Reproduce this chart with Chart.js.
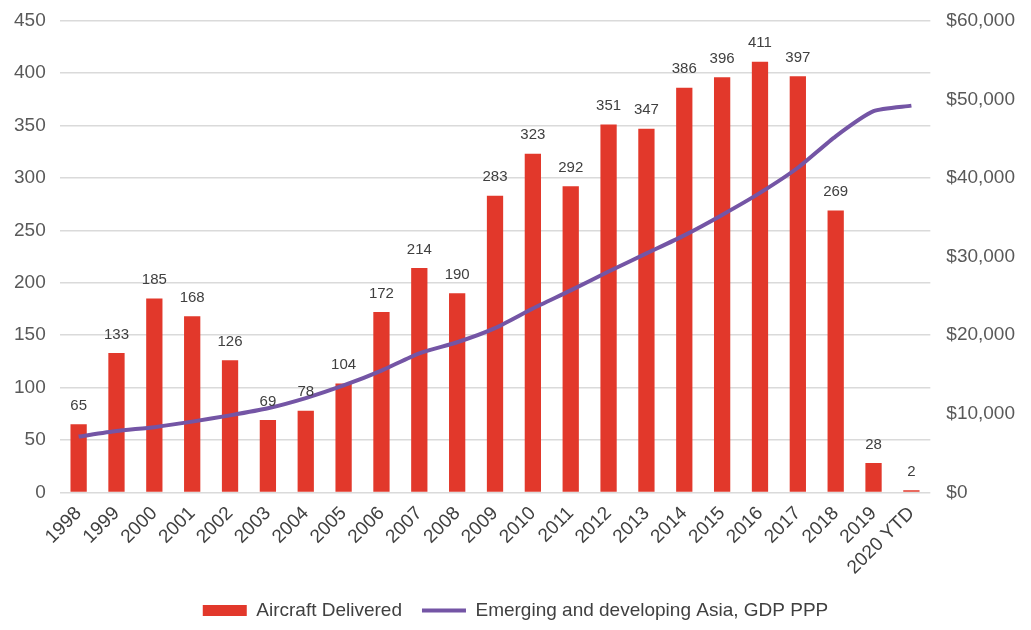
<!DOCTYPE html>
<html>
<head>
<meta charset="utf-8">
<script src="https://cdn.jsdelivr.net/npm/chart.js@4"></script>
<style>
  body { margin: 0; background: #fff; }
  #wrap { width: 1031px; height: 630px; }
</style>
</head>
<body>
<div id="wrap"><canvas id="myChart"></canvas></div>
<script>
const years = ['1998', '1999', '2000', '2001', '2002', '2003', '2004', '2005', '2006', '2007', '2008',
    '2009', '2010', '2011', '2012', '2013', '2014', '2015', '2016', '2017', '2018', '2019', '2020 YTD'];
const delivered = [65, 133, 185, 168, 126, 69, 78, 104, 172, 214, 190,
    283, 323, 292, 351, 347, 386, 396, 411, 397, 269, 28, 2];
// estimated off the right axis
const gdpPpp = [7100, 7800, 8300, 9000, 9800, 10700, 12000, 13600, 15500, 17700, 19100,
    20900, 23400, 25700, 28100, 30400, 32700, 35300, 38100, 41300, 45300, 48500, 49200];
const leftTicks = [0, 50, 100, 150, 200, 250, 300, 350, 400, 450];

const FONT = '"Liberation Sans", Arial, sans-serif';

const barLabels = {
    id: 'barLabels',
    afterDatasetsDraw(chart) {
        const ctx = chart.ctx;
        const meta = chart.getDatasetMeta(1);
        ctx.save();
        ctx.font = '15px ' + FONT;
        ctx.fillStyle = '#404040';
        ctx.textAlign = 'center';
        ctx.textBaseline = 'bottom';
        meta.data.forEach((bar, i) => {
            ctx.fillText(delivered[i], bar.x, bar.y - 11);
        });
        ctx.restore();
    }
};

const ctx = document.getElementById('myChart');
const myChart = new Chart(ctx, {
    type: 'bar',
    data: {
        labels: years,
        datasets: [
            {
                type: 'line',
                label: 'Emerging and developing Asia, GDP PPP',
                data: gdpPpp,
                yAxisID: 'y2',
                borderColor: '#7455a5',
                backgroundColor: '#7455a5',
                borderWidth: 4,
                pointRadius: 0,
                pointStyle: 'line',
                tension: 0.2,
                order: 0
            },
            {
                label: 'Aircraft Delivered',
                data: delivered,
                yAxisID: 'y',
                backgroundColor: '#e2382b',
                pointStyle: 'rect',
                barPercentage: 0.43,
                categoryPercentage: 1,
                order: 1
            }
        ]
    },
    options: {
        responsive: true,
        maintainAspectRatio: false,
        animation: false,
        layout: { padding: { left: 0, right: 0, top: 16, bottom: 0 } },
        plugins: {
            tooltip: { enabled: false },
            legend: {
                position: 'bottom',
                reverse: true,
                labels: {
                    usePointStyle: true,
                    pointStyleWidth: 44,
                    boxHeight: 11,
                    padding: 20,
                    color: '#404040',
                    font: { family: FONT, size: 19 }
                }
            }
        },
        scales: {
            x: {
                grid: { display: false },
                border: { display: false },
                ticks: {
                    maxRotation: 45,
                    minRotation: 45,
                    autoSkip: false,
                    color: '#404040',
                    padding: 2,
                    font: { family: FONT, size: 19 }
                }
            },
            y: {
                position: 'left',
                min: 0,
                max: 450,
                afterBuildTicks: axis => { axis.ticks = leftTicks.map(v => ({ value: v })); },
                grid: { color: '#dadada', lineWidth: 1.5, drawTicks: false },
                border: { display: false },
                ticks: {
                    color: '#595959',
                    padding: 14,
                    font: { family: FONT, size: 19, lineHeight: 0.5 }
                }
            },
            y2: {
                position: 'right',
                min: 0,
                max: 60000,
                grid: { display: false, drawTicks: false },
                border: { display: false },
                ticks: {
                    stepSize: 10000,
                    color: '#595959',
                    padding: 16,
                    font: { family: FONT, size: 19, lineHeight: 0.5 },
                    callback: v => '$' + v.toLocaleString('en-US')
                }
            }
        }
    },
    plugins: [barLabels]
});
</script>
</body>
</html>
